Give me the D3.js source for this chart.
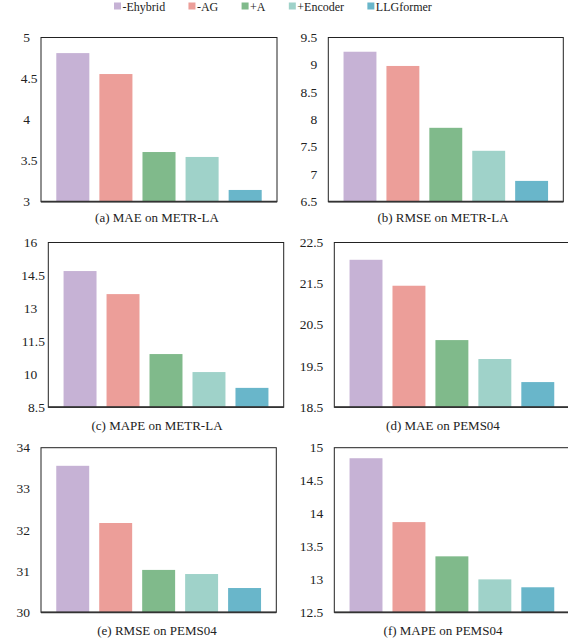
<!DOCTYPE html>
<html>
<head>
<meta charset="utf-8">
<script src="https://cdn.jsdelivr.net/npm/d3@7"></script>
<style>
  html, body { margin: 0; padding: 0; background: #fff; }
  svg { display: block; }
</style>
</head>
<body>
<svg id="chart" width="568" height="644" font-family="'Liberation Serif', 'Times New Roman', Times, 'DejaVu Serif', serif"></svg>
<script>
// ---- data ----
const categories = ["-Ehybrid", "-AG", "+A", "+Encoder", "LLGformer"];
const colors = ["#C6B2D5", "#EC9E99", "#80BA8B", "#9FD2C9", "#69B6CA"];

const maeMetr   = [4.81, 4.555, 3.605, 3.545, 3.143];
const rmseMetr  = [9.24, 8.98, 7.85, 7.43, 6.88];
const mapeMetr  = [14.70, 13.65, 10.92, 10.10, 9.38];
const maePems   = [22.08, 21.45, 20.13, 19.67, 19.11];
const rmsePems  = [33.56, 32.17, 31.03, 30.93, 30.59];
const mapePems  = [14.84, 13.87, 13.35, 13.00, 12.88];

const ticksA = [3, 3.5, 4, 4.5, 5];
const ticksB = [6.5, 7, 7.5, 8, 8.5, 9, 9.5];
const ticksC = [8.5, 10, 11.5, 13, 14.5, 16];
const ticksD = [18.5, 19.5, 20.5, 21.5, 22.5];
const ticksE = [30, 31, 32, 33, 34];
const ticksF = [12.5, 13, 13.5, 14, 14.5, 15];

const titles = ["(a) MAE on METR-LA", "(b) RMSE on METR-LA", "(c) MAPE on METR-LA",
                "(d) MAE on PEMS04", "(e) RMSE on PEMS04", "(f) MAPE on PEMS04"];

// ---- layout ----
const panels = [
  {vals: maeMetr,  ticks: ticksA, x0: 41,    x1: 277,   y0: 37.5,  y1: 201.7, cx: 157, cy: 222, dec: true},
  {vals: rmseMetr, ticks: ticksB, x0: 328.3, x1: 563.3, y0: 37.5,  y1: 201.7, cx: 443, cy: 222, dec: false},
  {vals: mapeMetr, ticks: ticksC, x0: 48.3,  x1: 283.7, y0: 242.5, y1: 407.2, cx: 157, cy: 430, dec: true},
  {vals: maePems,  ticks: ticksD, x0: 334.3, x1: 569.5, y0: 242.5, y1: 407.2, cx: 443, cy: 429.5, dec: false},
  {vals: rmsePems, ticks: ticksE, x0: 41,    x1: 276.3, y0: 447.7, y1: 612.3, cx: 157, cy: 634.5, dec: false},
  {vals: mapePems, ticks: ticksF, x0: 334.3, x1: 569.5, y0: 447.7, y1: 612.3, cx: 443, cy: 635, dec: false}
];

const svg = d3.select("#chart");
const FONT = "'Liberation Serif', 'Times New Roman', Times, 'DejaVu Serif', serif";

// measure helper
const meas = svg.append("text").attr("font-family", FONT).attr("font-size", 13).attr("x", -100).attr("y", -100);
function textW(s, size) { meas.attr("font-size", size).text(s); return meas.node().getComputedTextLength(); }

panels.forEach((p, i) => {
  const g = svg.append("g");
  const x = d3.scaleBand().domain(categories).range([p.x0, p.x1]).paddingInner(0.233).paddingOuter(0.355);
  const dom = d3.extent(p.ticks);
  const y = d3.scaleLinear().domain(dom).range([p.y1, p.y0]);

  g.selectAll("rect.bar").data(p.vals).join("rect")
    .attr("class", "bar")
    .attr("x", (d, j) => x(categories[j]))
    .attr("width", x.bandwidth())
    .attr("y", d => y(d))
    .attr("height", d => y(dom[0]) - y(d))
    .attr("fill", (d, j) => colors[j]);

  // frame
  g.append("rect").attr("x", p.x0).attr("y", p.y0)
    .attr("width", p.x1 - p.x0).attr("height", p.y1 - p.y0)
    .attr("fill", "none").attr("stroke", "#222").attr("stroke-width", 1);
  g.append("line").attr("x1", p.x0).attr("x2", p.x1).attr("y1", p.y1).attr("y2", p.y1)
    .attr("stroke", "#333").attr("stroke-width", 1.8);

  // y tick labels
  const labelX = p.x0 - 11;
  g.selectAll("text.tick").data(p.ticks).join("text")
    .attr("class", "tick")
    .attr("font-family", FONT)
    .attr("font-size", 13.5)
    .attr("fill", "#222")
    .attr("text-anchor", "end")
    .attr("dominant-baseline", "central")
    .attr("x", d => {
      const s = String(d);
      if (p.dec && s.includes(".")) return labelX + textW(s.slice(s.indexOf(".")), 13.5) * 0.75;
      return labelX;
    })
    .attr("y", d => y(d))
    .text(d => String(d));

  // caption
  svg.append("text").attr("x", p.cx).attr("y", p.cy)
    .attr("font-family", FONT)
    .attr("fill", "#222")
    .attr("text-anchor", "middle").attr("font-size", 13)
    .text(titles[i]);
});

// legend
let lx = 114;
const lg = svg.append("g");
categories.forEach((c, j) => {
  lg.append("rect").attr("x", lx).attr("y", 2.5).attr("width", 7).attr("height", 7).attr("fill", colors[j]);
  const t = lg.append("text").attr("x", lx + 8.5).attr("y", 10.5)
    .attr("font-family", FONT).attr("fill", "#222").attr("font-size", 12).text(c);
  lx += 8.5 + t.node().getComputedTextLength() + 23.3;
});
meas.remove();
</script>
</body>
</html>
